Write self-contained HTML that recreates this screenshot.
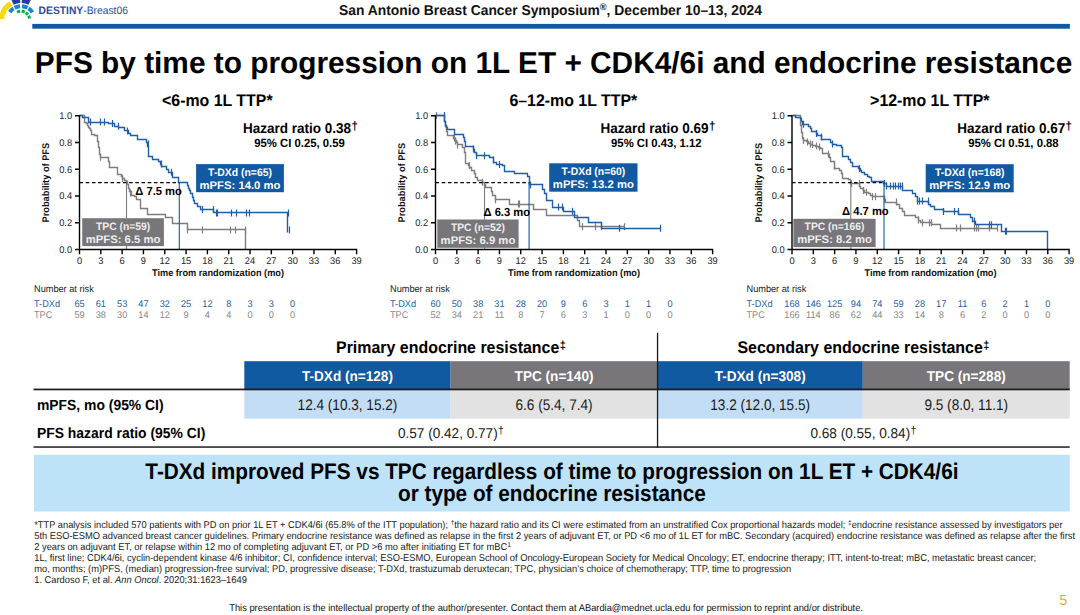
<!DOCTYPE html>
<html><head><meta charset="utf-8"><style>
html,body{margin:0;padding:0;background:#fff;}
svg{display:block;font-family:"Liberation Sans", sans-serif;text-rendering:geometricPrecision;}
</style></head><body>
<svg width="1080" height="615" viewBox="0 0 1080 615">
<rect width="1080" height="615" fill="#fff"/>
<path d="M9.51,1.24 A22.0,22.0 0 0 0 -0.97,18.85 L4.22,19.12 A16.8,16.8 0 0 1 12.22,5.68 Z" fill="#F6DA17"/>
<path d="M19.95,-3.98 A24,24 0 0 0 10.67,-1.66 L13.68,4.66 A17.0,17.0 0 0 1 20.26,3.02 Z" fill="#243F99"/>
<path d="M31.52,-1.57 A24,24 0 0 0 22.05,-3.98 L21.74,3.02 A17.0,17.0 0 0 1 28.45,4.72 Z" fill="#243F99"/>
<path d="M12.39,6.75 A15.8,15.8 0 0 0 8.06,10.94 L11.33,13.23 A11.8,11.8 0 0 1 14.57,10.10 Z" fill="#1A86CC"/>
<path d="M19.90,4.24 A15.8,15.8 0 0 0 13.58,6.05 L15.46,9.58 A11.8,11.8 0 0 1 20.18,8.23 Z" fill="#1A86CC"/>
<path d="M28.42,6.05 A15.8,15.8 0 0 0 22.10,4.24 L21.82,8.23 A11.8,11.8 0 0 1 26.54,9.58 Z" fill="#1A86CC"/>
<path d="M34.10,11.16 A15.8,15.8 0 0 0 29.61,6.75 L27.43,10.10 A11.8,11.8 0 0 1 30.78,13.40 Z" fill="#1A86CC"/>
<path d="M20.11,9.84 A10.2,10.2 0 0 0 16.37,10.91 L17.73,13.58 A7.2,7.2 0 0 1 20.37,12.83 Z" fill="#12AD4B"/>
<path d="M25.47,10.83 A10.2,10.2 0 0 0 21.71,9.82 L21.50,12.82 A7.2,7.2 0 0 1 24.16,13.53 Z" fill="#12AD4B"/>
<path d="M29.15,13.86 A10.2,10.2 0 0 0 26.56,11.45 L24.92,13.96 A7.2,7.2 0 0 1 26.75,15.67 Z" fill="#12AD4B"/>
<path d="M31.05,18.23 A10.2,10.2 0 0 0 29.83,14.90 L27.24,16.40 A7.2,7.2 0 0 1 28.09,18.75 Z" fill="#12AD4B"/>
<text x="0" y="0" transform="translate(38.6,13.9) scale(1,1.05)" font-size="10.3" font-weight="400" fill="#2B4C9E" text-anchor="start" ><tspan font-weight="700">DESTINY</tspan>-Breast06</text>
<text x="0" y="0" transform="translate(339,15) scale(1,1.05)" font-size="13.6" font-weight="700" fill="#111" text-anchor="start" textLength="423" lengthAdjust="spacingAndGlyphs" >San Antonio Breast Cancer Symposium<tspan font-size="9" dy="-5">®</tspan><tspan dy="5">, December 10–13, 2024</tspan></text>
<rect x="32.3" y="23.9" width="1037.6" height="4.8" fill="#1159A1"/>
<text x="0" y="0" transform="translate(34.8,72.7) scale(1,1.02)" font-size="29.7" font-weight="700" fill="#000" text-anchor="start" textLength="1037.5" lengthAdjust="spacingAndGlyphs" >PFS by time to progression on 1L ET + CDK4/6i and endocrine resistance</text>
<text x="0" y="0" transform="translate(217.3,105.5) scale(1,1.06)" font-size="15.9" font-weight="700" fill="#000" text-anchor="middle" >&lt;6-mo 1L TTP*</text>
<text x="0" y="0" transform="translate(357.8,132.8) scale(1,1.05)" font-size="13.5" font-weight="700" fill="#000" text-anchor="end" >Hazard ratio 0.38<tspan font-size="11.5" dy="-3" dx="0.3">†</tspan></text>
<text x="0" y="0" transform="translate(299.5,146.8) scale(1,1.05)" font-size="11.3" font-weight="700" fill="#000" text-anchor="middle" >95% CI 0.25, 0.59</text>
<path d="M79.5,115.5 H84.5 V122.5 H86.5 V123.5 H87.5 V125.5 H88.5 V127.5 H89.5 V128.5 H90.5 V130.5 H91.5 V134.5 H94.5 V135.5 H97.5 V136.5 H97.5 V141.5 H98.5 V144.5 H98.5 V147.5 H99.5 V154.5 H100.5 V157.5 H108.5 V161.5 H109.5 V167.5 H117.5 V174.5 H121.5 V176.5 H122.5 V178.5 H124.5 V180.5 H126.5 V181.5 H127.5 V184.5 H128.5 V188.5 H129.5 V191.5 H131.5 V195.5 H134.5 V196.5 H136.5 V199.5 H140.5 V208.5 H147.5 V214.5 H165.5 V217.5 H172.5 V223.5 H187.5 V229.5 H245.5 V249.5" fill="none" stroke="#7D7D7D" stroke-width="1.4"/>
<path d="M100.50,153.80v7M122.50,175.00v7M130.50,189.50v7M187.50,226.40v7M202.50,226.50v7M230.50,226.50v7M235.50,226.50v7M245.50,226.50v7" fill="none" stroke="#7D7D7D" stroke-width="1.2"/>
<path d="M79.5,115.5 H82.5 V117.5 H88.5 V122.5 H108.5 V123.5 H114.5 V126.5 H118.5 V127.5 H124.5 V130.5 H128.5 V133.5 H130.5 V135.5 H137.5 V139.5 H146.5 V142.5 H147.5 V146.5 H148.5 V152.5 H148.5 V156.5 H152.5 V159.5 H158.5 V161.5 H160.5 V164.5 H161.5 V166.5 H166.5 V169.5 H168.5 V172.5 H172.5 V177.5 H178.5 V182.5 H187.5 V185.5 H188.5 V188.5 H189.5 V190.5 H190.5 V193.5 H192.5 V197.5 H193.5 V200.5 H194.5 V203.5 H197.5 V206.5 H200.5 V209.5 H213.5 V212.5 H287.5 V232.5" fill="none" stroke="#1F5DA8" stroke-width="1.4"/>
<path d="M90.50,118.50v7M100.50,118.50v7M104.50,118.50v7M112.50,119.90v7M118.50,122.70v7M127.50,127.50v7M148.50,140.50v7M161.50,160.50v7M171.50,168.70v7M202.50,205.90v7M213.50,205.90v7M216.50,209.40v7M217.50,209.40v7M231.50,209.40v7M236.50,209.40v7M246.50,209.40v7M249.50,209.40v7M288.50,209.40v7M289.50,226.50v7" fill="none" stroke="#1F5DA8" stroke-width="1.2"/>
<path d="M126.50,182.65V249.5" stroke="#7D7D7D" stroke-width="1.1" fill="none"/>
<path d="M179.30,182.65V249.5" stroke="#1159A1" stroke-width="1.1" fill="none"/>
<path d="M79.5,182.65H179.30" stroke="#000" stroke-width="1.2" stroke-dasharray="3.6,2.6" fill="none"/>
<rect x="196.1" y="164.1" width="87.80" height="28.10" fill="#1159A1"/>
<text x="0" y="0" transform="translate(240.00,175.60) scale(1,1.05)" font-size="10.4" font-weight="700" fill="#fff" text-anchor="middle" >T-DXd (n=65)</text>
<text x="0" y="0" transform="translate(240.00,188.70) scale(1,0.98)" font-size="11.3" font-weight="700" fill="#fff" text-anchor="middle" >mPFS: 14.0 mo</text>
<rect x="82.2" y="218.2" width="81.70" height="27.90" fill="#78767B"/>
<text x="0" y="0" transform="translate(123.05,229.50) scale(1,1.05)" font-size="10.3" font-weight="700" fill="#eee" text-anchor="middle" >TPC (n=59)</text>
<text x="0" y="0" transform="translate(123.05,242.50) scale(1,0.98)" font-size="11.3" font-weight="700" fill="#eee" text-anchor="middle" >mPFS: 6.5 mo</text>
<text x="0" y="0" transform="translate(135.3,194.7) scale(1,1.05)" font-size="11.2" font-weight="700" fill="#000" text-anchor="start" >Δ 7.5 mo</text>
<path d="M79.5,115.3V249.5H357.20 M75.0,249.50H79.5M75.0,222.76H79.5M75.0,196.02H79.5M75.0,169.28H79.5M75.0,142.54H79.5M75.0,115.80H79.5 M79.50,249.5v4.8M100.81,249.5v4.8M122.13,249.5v4.8M143.44,249.5v4.8M164.76,249.5v4.8M186.07,249.5v4.8M207.39,249.5v4.8M228.71,249.5v4.8M250.02,249.5v4.8M271.34,249.5v4.8M292.65,249.5v4.8M313.97,249.5v4.8M335.28,249.5v4.8M356.60,249.5v4.8" stroke="#000" stroke-width="1.4" fill="none"/>
<text x="0" y="0" transform="translate(72.10,252.80) scale(1,1.05)" font-size="9.3" font-weight="400" fill="#222" text-anchor="end" >0.0</text>
<text x="0" y="0" transform="translate(72.10,226.06) scale(1,1.05)" font-size="9.3" font-weight="400" fill="#222" text-anchor="end" >0.2</text>
<text x="0" y="0" transform="translate(72.10,199.32) scale(1,1.05)" font-size="9.3" font-weight="400" fill="#222" text-anchor="end" >0.4</text>
<text x="0" y="0" transform="translate(72.10,172.58) scale(1,1.05)" font-size="9.3" font-weight="400" fill="#222" text-anchor="end" >0.6</text>
<text x="0" y="0" transform="translate(72.10,145.84) scale(1,1.05)" font-size="9.3" font-weight="400" fill="#222" text-anchor="end" >0.8</text>
<text x="0" y="0" transform="translate(72.10,119.10) scale(1,1.05)" font-size="9.3" font-weight="400" fill="#222" text-anchor="end" >1.0</text>
<text x="0" y="0" transform="translate(79.50,263.9) scale(1,1.05)" font-size="9.3" font-weight="400" fill="#222" text-anchor="middle" >0</text>
<text x="0" y="0" transform="translate(100.81,263.9) scale(1,1.05)" font-size="9.3" font-weight="400" fill="#222" text-anchor="middle" >3</text>
<text x="0" y="0" transform="translate(122.13,263.9) scale(1,1.05)" font-size="9.3" font-weight="400" fill="#222" text-anchor="middle" >6</text>
<text x="0" y="0" transform="translate(143.44,263.9) scale(1,1.05)" font-size="9.3" font-weight="400" fill="#222" text-anchor="middle" >9</text>
<text x="0" y="0" transform="translate(164.76,263.9) scale(1,1.05)" font-size="9.3" font-weight="400" fill="#222" text-anchor="middle" >12</text>
<text x="0" y="0" transform="translate(186.07,263.9) scale(1,1.05)" font-size="9.3" font-weight="400" fill="#222" text-anchor="middle" >15</text>
<text x="0" y="0" transform="translate(207.39,263.9) scale(1,1.05)" font-size="9.3" font-weight="400" fill="#222" text-anchor="middle" >18</text>
<text x="0" y="0" transform="translate(228.71,263.9) scale(1,1.05)" font-size="9.3" font-weight="400" fill="#222" text-anchor="middle" >21</text>
<text x="0" y="0" transform="translate(250.02,263.9) scale(1,1.05)" font-size="9.3" font-weight="400" fill="#222" text-anchor="middle" >24</text>
<text x="0" y="0" transform="translate(271.34,263.9) scale(1,1.05)" font-size="9.3" font-weight="400" fill="#222" text-anchor="middle" >27</text>
<text x="0" y="0" transform="translate(292.65,263.9) scale(1,1.05)" font-size="9.3" font-weight="400" fill="#222" text-anchor="middle" >30</text>
<text x="0" y="0" transform="translate(313.97,263.9) scale(1,1.05)" font-size="9.3" font-weight="400" fill="#222" text-anchor="middle" >33</text>
<text x="0" y="0" transform="translate(335.28,263.9) scale(1,1.05)" font-size="9.3" font-weight="400" fill="#222" text-anchor="middle" >36</text>
<text x="0" y="0" transform="translate(356.60,263.9) scale(1,1.05)" font-size="9.3" font-weight="400" fill="#222" text-anchor="middle" >39</text>
<text x="0" y="0" transform="translate(218.00,276.4) scale(1,1.05)" font-size="9.2" font-weight="700" fill="#111" text-anchor="middle" >Time from randomization (mo)</text>
<text x="0" y="0" font-size="9.25" font-weight="700" fill="#111" text-anchor="middle" transform="translate(49.10,182.65) rotate(-90) scale(1,1.05)">Probability of PFS</text>
<text x="0" y="0" transform="translate(34.00,291.9) scale(1,1.05)" font-size="9.2" font-weight="400" fill="#222" text-anchor="start" >Number at risk</text>
<text x="0" y="0" transform="translate(34.00,306.9) scale(1,1.05)" font-size="9.2" font-weight="400" fill="#1F5FAA" text-anchor="start" >T-DXd</text>
<text x="0" y="0" transform="translate(34.00,317.5) scale(1,1.05)" font-size="9.2" font-weight="400" fill="#888" text-anchor="start" >TPC</text>
<text x="0" y="0" transform="translate(79.50,306.9) scale(1,1.05)" font-size="9.2" font-weight="400" fill="#1F5FAA" text-anchor="middle" >65</text>
<text x="0" y="0" transform="translate(100.81,306.9) scale(1,1.05)" font-size="9.2" font-weight="400" fill="#1F5FAA" text-anchor="middle" >61</text>
<text x="0" y="0" transform="translate(122.13,306.9) scale(1,1.05)" font-size="9.2" font-weight="400" fill="#1F5FAA" text-anchor="middle" >53</text>
<text x="0" y="0" transform="translate(143.44,306.9) scale(1,1.05)" font-size="9.2" font-weight="400" fill="#1F5FAA" text-anchor="middle" >47</text>
<text x="0" y="0" transform="translate(164.76,306.9) scale(1,1.05)" font-size="9.2" font-weight="400" fill="#1F5FAA" text-anchor="middle" >32</text>
<text x="0" y="0" transform="translate(186.07,306.9) scale(1,1.05)" font-size="9.2" font-weight="400" fill="#1F5FAA" text-anchor="middle" >25</text>
<text x="0" y="0" transform="translate(207.39,306.9) scale(1,1.05)" font-size="9.2" font-weight="400" fill="#1F5FAA" text-anchor="middle" >12</text>
<text x="0" y="0" transform="translate(228.71,306.9) scale(1,1.05)" font-size="9.2" font-weight="400" fill="#1F5FAA" text-anchor="middle" >8</text>
<text x="0" y="0" transform="translate(250.02,306.9) scale(1,1.05)" font-size="9.2" font-weight="400" fill="#1F5FAA" text-anchor="middle" >3</text>
<text x="0" y="0" transform="translate(271.34,306.9) scale(1,1.05)" font-size="9.2" font-weight="400" fill="#1F5FAA" text-anchor="middle" >3</text>
<text x="0" y="0" transform="translate(292.65,306.9) scale(1,1.05)" font-size="9.2" font-weight="400" fill="#1F5FAA" text-anchor="middle" >0</text>
<text x="0" y="0" transform="translate(79.50,317.5) scale(1,1.05)" font-size="9.2" font-weight="400" fill="#888" text-anchor="middle" >59</text>
<text x="0" y="0" transform="translate(100.81,317.5) scale(1,1.05)" font-size="9.2" font-weight="400" fill="#888" text-anchor="middle" >38</text>
<text x="0" y="0" transform="translate(122.13,317.5) scale(1,1.05)" font-size="9.2" font-weight="400" fill="#888" text-anchor="middle" >30</text>
<text x="0" y="0" transform="translate(143.44,317.5) scale(1,1.05)" font-size="9.2" font-weight="400" fill="#888" text-anchor="middle" >14</text>
<text x="0" y="0" transform="translate(164.76,317.5) scale(1,1.05)" font-size="9.2" font-weight="400" fill="#888" text-anchor="middle" >12</text>
<text x="0" y="0" transform="translate(186.07,317.5) scale(1,1.05)" font-size="9.2" font-weight="400" fill="#888" text-anchor="middle" >9</text>
<text x="0" y="0" transform="translate(207.39,317.5) scale(1,1.05)" font-size="9.2" font-weight="400" fill="#888" text-anchor="middle" >4</text>
<text x="0" y="0" transform="translate(228.71,317.5) scale(1,1.05)" font-size="9.2" font-weight="400" fill="#888" text-anchor="middle" >4</text>
<text x="0" y="0" transform="translate(250.02,317.5) scale(1,1.05)" font-size="9.2" font-weight="400" fill="#888" text-anchor="middle" >0</text>
<text x="0" y="0" transform="translate(271.34,317.5) scale(1,1.05)" font-size="9.2" font-weight="400" fill="#888" text-anchor="middle" >0</text>
<text x="0" y="0" transform="translate(292.65,317.5) scale(1,1.05)" font-size="9.2" font-weight="400" fill="#888" text-anchor="middle" >0</text>
<text x="0" y="0" transform="translate(573.3,105.5) scale(1,1.06)" font-size="15.9" font-weight="700" fill="#000" text-anchor="middle" >6–12-mo 1L TTP*</text>
<text x="0" y="0" transform="translate(715.3,132.8) scale(1,1.05)" font-size="13.5" font-weight="700" fill="#000" text-anchor="end" >Hazard ratio 0.69<tspan font-size="11.5" dy="-3" dx="0.3">†</tspan></text>
<text x="0" y="0" transform="translate(656.3,146.8) scale(1,1.05)" font-size="11.3" font-weight="700" fill="#000" text-anchor="middle" >95% CI 0.43, 1.12</text>
<path d="M435.5,115.5 H444.5 V121.5 H445.5 V126.5 H446.5 V131.5 H447.5 V135.5 H453.5 V138.5 H455.5 V140.5 H456.5 V142.5 H457.5 V144.5 H462.5 V147.5 H464.5 V152.5 H465.5 V156.5 H465.5 V163.5 H468.5 V165.5 H469.5 V167.5 H471.5 V170.5 H474.5 V173.5 H475.5 V177.5 H477.5 V180.5 H482.5 V182.5 H484.5 V184.5 H485.5 V187.5 H491.5 V191.5 H492.5 V195.5 H495.5 V199.5 H509.5 V204.5 H533.5 V209.5 H546.5 V215.5 H577.5 V220.5 H579.5 V226.5 H624.5" fill="none" stroke="#7D7D7D" stroke-width="1.4"/>
<path d="M436.50,111.90v7M454.50,134.50v7M455.50,137.50v7M457.50,141.50v7M469.50,162.00v7M482.50,178.70v7M495.50,196.30v7M518.50,200.50v7M519.50,200.50v7M582.50,223.30v7M595.50,223.30v7M601.50,223.30v7M624.50,223.30v7" fill="none" stroke="#7D7D7D" stroke-width="1.2"/>
<path d="M435.5,115.5 H444.5 V121.5 H445.5 V125.5 H446.5 V127.5 H447.5 V129.5 H454.5 V134.5 H463.5 V137.5 H464.5 V141.5 H465.5 V143.5 H465.5 V146.5 H473.5 V149.5 H474.5 V152.5 H476.5 V155.5 H489.5 V157.5 H493.5 V162.5 H496.5 V164.5 H502.5 V165.5 H504.5 V168.5 H504.5 V171.5 H514.5 V173.5 H527.5 V176.5 H529.5 V184.5 H542.5 V189.5 H544.5 V193.5 H546.5 V200.5 H552.5 V207.5 H563.5 V211.5 H574.5 V217.5 H588.5 V222.5 H601.5 V228.5 H660.5" fill="none" stroke="#1F5DA8" stroke-width="1.4"/>
<path d="M444.50,111.90v7M473.50,145.50v7M476.50,152.20v7M484.50,152.20v7M493.50,156.50v7M499.50,161.10v7M530.50,181.40v7M558.50,203.60v7M562.50,203.60v7M572.50,207.80v7M619.50,224.70v7M660.50,224.70v7" fill="none" stroke="#1F5DA8" stroke-width="1.2"/>
<path d="M484.50,182.65V249.5" stroke="#7D7D7D" stroke-width="1.1" fill="none"/>
<path d="M529.10,182.65V249.5" stroke="#1159A1" stroke-width="1.1" fill="none"/>
<path d="M435.5,182.65H529.10" stroke="#000" stroke-width="1.2" stroke-dasharray="3.6,2.6" fill="none"/>
<rect x="549.2" y="163.3" width="88.30" height="28.40" fill="#1159A1"/>
<text x="0" y="0" transform="translate(593.35,174.80) scale(1,1.05)" font-size="10.4" font-weight="700" fill="#fff" text-anchor="middle" >T-DXd (n=60)</text>
<text x="0" y="0" transform="translate(593.35,187.90) scale(1,0.98)" font-size="11.3" font-weight="700" fill="#fff" text-anchor="middle" >mPFS: 13.2 mo</text>
<rect x="437.3" y="219.5" width="81.30" height="28.30" fill="#78767B"/>
<text x="0" y="0" transform="translate(477.95,230.80) scale(1,1.05)" font-size="10.3" font-weight="700" fill="#eee" text-anchor="middle" >TPC (n=52)</text>
<text x="0" y="0" transform="translate(477.95,243.80) scale(1,0.98)" font-size="11.3" font-weight="700" fill="#eee" text-anchor="middle" >mPFS: 6.9 mo</text>
<text x="0" y="0" transform="translate(483.5,215.8) scale(1,1.05)" font-size="11.2" font-weight="700" fill="#000" text-anchor="start" >Δ 6.3 mo</text>
<path d="M435.5,115.3V249.5H713.20 M431.0,249.50H435.5M431.0,222.76H435.5M431.0,196.02H435.5M431.0,169.28H435.5M431.0,142.54H435.5M431.0,115.80H435.5 M435.50,249.5v4.8M456.81,249.5v4.8M478.13,249.5v4.8M499.44,249.5v4.8M520.76,249.5v4.8M542.08,249.5v4.8M563.39,249.5v4.8M584.71,249.5v4.8M606.02,249.5v4.8M627.34,249.5v4.8M648.65,249.5v4.8M669.97,249.5v4.8M691.28,249.5v4.8M712.60,249.5v4.8" stroke="#000" stroke-width="1.4" fill="none"/>
<text x="0" y="0" transform="translate(428.10,252.80) scale(1,1.05)" font-size="9.3" font-weight="400" fill="#222" text-anchor="end" >0.0</text>
<text x="0" y="0" transform="translate(428.10,226.06) scale(1,1.05)" font-size="9.3" font-weight="400" fill="#222" text-anchor="end" >0.2</text>
<text x="0" y="0" transform="translate(428.10,199.32) scale(1,1.05)" font-size="9.3" font-weight="400" fill="#222" text-anchor="end" >0.4</text>
<text x="0" y="0" transform="translate(428.10,172.58) scale(1,1.05)" font-size="9.3" font-weight="400" fill="#222" text-anchor="end" >0.6</text>
<text x="0" y="0" transform="translate(428.10,145.84) scale(1,1.05)" font-size="9.3" font-weight="400" fill="#222" text-anchor="end" >0.8</text>
<text x="0" y="0" transform="translate(428.10,119.10) scale(1,1.05)" font-size="9.3" font-weight="400" fill="#222" text-anchor="end" >1.0</text>
<text x="0" y="0" transform="translate(435.50,263.9) scale(1,1.05)" font-size="9.3" font-weight="400" fill="#222" text-anchor="middle" >0</text>
<text x="0" y="0" transform="translate(456.81,263.9) scale(1,1.05)" font-size="9.3" font-weight="400" fill="#222" text-anchor="middle" >3</text>
<text x="0" y="0" transform="translate(478.13,263.9) scale(1,1.05)" font-size="9.3" font-weight="400" fill="#222" text-anchor="middle" >6</text>
<text x="0" y="0" transform="translate(499.44,263.9) scale(1,1.05)" font-size="9.3" font-weight="400" fill="#222" text-anchor="middle" >9</text>
<text x="0" y="0" transform="translate(520.76,263.9) scale(1,1.05)" font-size="9.3" font-weight="400" fill="#222" text-anchor="middle" >12</text>
<text x="0" y="0" transform="translate(542.08,263.9) scale(1,1.05)" font-size="9.3" font-weight="400" fill="#222" text-anchor="middle" >15</text>
<text x="0" y="0" transform="translate(563.39,263.9) scale(1,1.05)" font-size="9.3" font-weight="400" fill="#222" text-anchor="middle" >18</text>
<text x="0" y="0" transform="translate(584.71,263.9) scale(1,1.05)" font-size="9.3" font-weight="400" fill="#222" text-anchor="middle" >21</text>
<text x="0" y="0" transform="translate(606.02,263.9) scale(1,1.05)" font-size="9.3" font-weight="400" fill="#222" text-anchor="middle" >24</text>
<text x="0" y="0" transform="translate(627.34,263.9) scale(1,1.05)" font-size="9.3" font-weight="400" fill="#222" text-anchor="middle" >27</text>
<text x="0" y="0" transform="translate(648.65,263.9) scale(1,1.05)" font-size="9.3" font-weight="400" fill="#222" text-anchor="middle" >30</text>
<text x="0" y="0" transform="translate(669.97,263.9) scale(1,1.05)" font-size="9.3" font-weight="400" fill="#222" text-anchor="middle" >33</text>
<text x="0" y="0" transform="translate(691.28,263.9) scale(1,1.05)" font-size="9.3" font-weight="400" fill="#222" text-anchor="middle" >36</text>
<text x="0" y="0" transform="translate(712.60,263.9) scale(1,1.05)" font-size="9.3" font-weight="400" fill="#222" text-anchor="middle" >39</text>
<text x="0" y="0" transform="translate(574.00,276.4) scale(1,1.05)" font-size="9.2" font-weight="700" fill="#111" text-anchor="middle" >Time from randomization (mo)</text>
<text x="0" y="0" font-size="9.25" font-weight="700" fill="#111" text-anchor="middle" transform="translate(405.10,182.65) rotate(-90) scale(1,1.05)">Probability of PFS</text>
<text x="0" y="0" transform="translate(390.00,291.9) scale(1,1.05)" font-size="9.2" font-weight="400" fill="#222" text-anchor="start" >Number at risk</text>
<text x="0" y="0" transform="translate(390.00,306.9) scale(1,1.05)" font-size="9.2" font-weight="400" fill="#1F5FAA" text-anchor="start" >T-DXd</text>
<text x="0" y="0" transform="translate(390.00,317.5) scale(1,1.05)" font-size="9.2" font-weight="400" fill="#888" text-anchor="start" >TPC</text>
<text x="0" y="0" transform="translate(435.50,306.9) scale(1,1.05)" font-size="9.2" font-weight="400" fill="#1F5FAA" text-anchor="middle" >60</text>
<text x="0" y="0" transform="translate(456.81,306.9) scale(1,1.05)" font-size="9.2" font-weight="400" fill="#1F5FAA" text-anchor="middle" >50</text>
<text x="0" y="0" transform="translate(478.13,306.9) scale(1,1.05)" font-size="9.2" font-weight="400" fill="#1F5FAA" text-anchor="middle" >38</text>
<text x="0" y="0" transform="translate(499.44,306.9) scale(1,1.05)" font-size="9.2" font-weight="400" fill="#1F5FAA" text-anchor="middle" >31</text>
<text x="0" y="0" transform="translate(520.76,306.9) scale(1,1.05)" font-size="9.2" font-weight="400" fill="#1F5FAA" text-anchor="middle" >28</text>
<text x="0" y="0" transform="translate(542.08,306.9) scale(1,1.05)" font-size="9.2" font-weight="400" fill="#1F5FAA" text-anchor="middle" >20</text>
<text x="0" y="0" transform="translate(563.39,306.9) scale(1,1.05)" font-size="9.2" font-weight="400" fill="#1F5FAA" text-anchor="middle" >9</text>
<text x="0" y="0" transform="translate(584.71,306.9) scale(1,1.05)" font-size="9.2" font-weight="400" fill="#1F5FAA" text-anchor="middle" >6</text>
<text x="0" y="0" transform="translate(606.02,306.9) scale(1,1.05)" font-size="9.2" font-weight="400" fill="#1F5FAA" text-anchor="middle" >3</text>
<text x="0" y="0" transform="translate(627.34,306.9) scale(1,1.05)" font-size="9.2" font-weight="400" fill="#1F5FAA" text-anchor="middle" >1</text>
<text x="0" y="0" transform="translate(648.65,306.9) scale(1,1.05)" font-size="9.2" font-weight="400" fill="#1F5FAA" text-anchor="middle" >1</text>
<text x="0" y="0" transform="translate(669.97,306.9) scale(1,1.05)" font-size="9.2" font-weight="400" fill="#1F5FAA" text-anchor="middle" >0</text>
<text x="0" y="0" transform="translate(435.50,317.5) scale(1,1.05)" font-size="9.2" font-weight="400" fill="#888" text-anchor="middle" >52</text>
<text x="0" y="0" transform="translate(456.81,317.5) scale(1,1.05)" font-size="9.2" font-weight="400" fill="#888" text-anchor="middle" >34</text>
<text x="0" y="0" transform="translate(478.13,317.5) scale(1,1.05)" font-size="9.2" font-weight="400" fill="#888" text-anchor="middle" >21</text>
<text x="0" y="0" transform="translate(499.44,317.5) scale(1,1.05)" font-size="9.2" font-weight="400" fill="#888" text-anchor="middle" >11</text>
<text x="0" y="0" transform="translate(520.76,317.5) scale(1,1.05)" font-size="9.2" font-weight="400" fill="#888" text-anchor="middle" >8</text>
<text x="0" y="0" transform="translate(542.08,317.5) scale(1,1.05)" font-size="9.2" font-weight="400" fill="#888" text-anchor="middle" >7</text>
<text x="0" y="0" transform="translate(563.39,317.5) scale(1,1.05)" font-size="9.2" font-weight="400" fill="#888" text-anchor="middle" >6</text>
<text x="0" y="0" transform="translate(584.71,317.5) scale(1,1.05)" font-size="9.2" font-weight="400" fill="#888" text-anchor="middle" >3</text>
<text x="0" y="0" transform="translate(606.02,317.5) scale(1,1.05)" font-size="9.2" font-weight="400" fill="#888" text-anchor="middle" >1</text>
<text x="0" y="0" transform="translate(627.34,317.5) scale(1,1.05)" font-size="9.2" font-weight="400" fill="#888" text-anchor="middle" >0</text>
<text x="0" y="0" transform="translate(648.65,317.5) scale(1,1.05)" font-size="9.2" font-weight="400" fill="#888" text-anchor="middle" >0</text>
<text x="0" y="0" transform="translate(669.97,317.5) scale(1,1.05)" font-size="9.2" font-weight="400" fill="#888" text-anchor="middle" >0</text>
<text x="0" y="0" transform="translate(929.8,105.5) scale(1,1.06)" font-size="15.9" font-weight="700" fill="#000" text-anchor="middle" >&gt;12-mo 1L TTP*</text>
<text x="0" y="0" transform="translate(1072.0,132.8) scale(1,1.05)" font-size="13.5" font-weight="700" fill="#000" text-anchor="end" >Hazard ratio 0.67<tspan font-size="11.5" dy="-3" dx="0.3">†</tspan></text>
<text x="0" y="0" transform="translate(1013.4,146.8) scale(1,1.05)" font-size="11.3" font-weight="700" fill="#000" text-anchor="middle" >95% CI 0.51, 0.88</text>
<path d="M792.5,115.5 H800.5 V125.5 H801.5 V132.5 H802.5 V138.5 H803.5 V140.5 H806.5 V141.5 H808.5 V143.5 H810.5 V144.5 H812.5 V145.5 H815.5 V146.5 H818.5 V147.5 H820.5 V148.5 H822.5 V153.5 H828.5 V154.5 H829.5 V157.5 H830.5 V161.5 H834.5 V164.5 H834.5 V168.5 H839.5 V170.5 H841.5 V173.5 H842.5 V178.5 H848.5 V179.5 H850.5 V183.5 H859.5 V186.5 H860.5 V188.5 H863.5 V190.5 H864.5 V192.5 H868.5 V193.5 H870.5 V195.5 H872.5 V196.5 H884.5 V199.5 H885.5 V202.5 H896.5 V204.5 H899.5 V208.5 H902.5 V211.5 H904.5 V215.5 H915.5 V217.5 H918.5 V220.5 H920.5 V222.5 H931.5 V224.5 H940.5 V228.5 H997.5" fill="none" stroke="#7D7D7D" stroke-width="1.4"/>
<path d="M803.50,137.00v7M807.50,138.50v7M810.50,140.50v7M812.50,141.00v7M816.50,142.50v7M819.50,143.50v7M828.50,150.80v7M834.50,162.50v7M851.50,180.10v7M859.50,180.10v7M863.50,187.00v7M866.50,188.80v7M872.50,193.20v7M875.50,193.20v7M884.50,195.60v7M896.50,198.60v7M918.50,216.60v7M922.50,219.30v7M929.50,219.30v7M931.50,219.30v7M956.50,224.60v7M960.50,224.60v7M974.50,224.60v7M976.50,224.60v7M978.50,224.60v7M989.50,224.60v7M989.50,224.60v7M997.50,224.60v7" fill="none" stroke="#7D7D7D" stroke-width="1.2"/>
<path d="M792.5,115.5 H795.5 V117.5 H800.5 V118.5 H801.5 V121.5 H802.5 V124.5 H806.5 V124.5 H808.5 V126.5 H810.5 V128.5 H811.5 V131.5 H816.5 V133.5 H817.5 V135.5 H821.5 V139.5 H830.5 V142.5 H832.5 V144.5 H836.5 V145.5 H841.5 V147.5 H842.5 V152.5 H842.5 V156.5 H848.5 V159.5 H850.5 V162.5 H852.5 V166.5 H858.5 V168.5 H860.5 V170.5 H861.5 V172.5 H864.5 V174.5 H867.5 V176.5 H869.5 V177.5 H871.5 V181.5 H883.5 V183.5 H886.5 V186.5 H902.5 V188.5 H902.5 V190.5 H912.5 V193.5 H915.5 V196.5 H917.5 V201.5 H928.5 V204.5 H930.5 V206.5 H934.5 V209.5 H943.5 V211.5 H958.5 V214.5 H970.5 V217.5 H972.5 V221.5 H975.5 V224.5 H1001.5 V231.5 H1047.5 V249.5" fill="none" stroke="#1F5DA8" stroke-width="1.4"/>
<path d="M803.50,120.70v7M816.50,130.00v7M821.50,133.50v7M832.50,140.50v7M859.50,165.00v7M884.50,180.00v7M886.50,182.50v7M890.50,182.50v7M893.50,182.50v7M895.50,182.50v7M898.50,182.50v7M900.50,182.50v7M902.50,182.50v7M917.50,197.50v7M919.50,197.50v7M922.50,197.50v7M928.50,197.50v7M943.50,207.90v7M954.50,207.90v7M958.50,207.90v7M974.50,217.50v7M989.50,221.30v7M991.50,221.30v7M1005.50,227.80v7M1006.50,227.80v7M1006.50,227.80v7" fill="none" stroke="#1F5DA8" stroke-width="1.2"/>
<path d="M850.80,182.65V249.5" stroke="#7D7D7D" stroke-width="1.1" fill="none"/>
<path d="M884.00,182.65V249.5" stroke="#1159A1" stroke-width="1.1" fill="none"/>
<path d="M792.0,182.65H884.00" stroke="#000" stroke-width="1.2" stroke-dasharray="3.6,2.6" fill="none"/>
<rect x="925.7" y="164.2" width="88.00" height="28.10" fill="#1159A1"/>
<text x="0" y="0" transform="translate(969.70,175.70) scale(1,1.05)" font-size="10.4" font-weight="700" fill="#fff" text-anchor="middle" >T-DXd (n=168)</text>
<text x="0" y="0" transform="translate(969.70,188.80) scale(1,0.98)" font-size="11.3" font-weight="700" fill="#fff" text-anchor="middle" >mPFS: 12.9 mo</text>
<rect x="793.4" y="218.8" width="82.20" height="28.30" fill="#78767B"/>
<text x="0" y="0" transform="translate(834.50,230.10) scale(1,1.05)" font-size="10.3" font-weight="700" fill="#eee" text-anchor="middle" >TPC (n=166)</text>
<text x="0" y="0" transform="translate(834.50,243.10) scale(1,0.98)" font-size="11.3" font-weight="700" fill="#eee" text-anchor="middle" >mPFS: 8.2 mo</text>
<text x="0" y="0" transform="translate(842.1,214.5) scale(1,1.05)" font-size="11.2" font-weight="700" fill="#000" text-anchor="start" >Δ 4.7 mo</text>
<path d="M792.0,115.3V249.5H1069.69 M787.5,249.50H792.0M787.5,222.76H792.0M787.5,196.02H792.0M787.5,169.28H792.0M787.5,142.54H792.0M787.5,115.80H792.0 M792.00,249.5v4.8M813.32,249.5v4.8M834.63,249.5v4.8M855.95,249.5v4.8M877.26,249.5v4.8M898.58,249.5v4.8M919.89,249.5v4.8M941.21,249.5v4.8M962.52,249.5v4.8M983.84,249.5v4.8M1005.15,249.5v4.8M1026.46,249.5v4.8M1047.78,249.5v4.8M1069.10,249.5v4.8" stroke="#000" stroke-width="1.4" fill="none"/>
<text x="0" y="0" transform="translate(784.60,252.80) scale(1,1.05)" font-size="9.3" font-weight="400" fill="#222" text-anchor="end" >0.0</text>
<text x="0" y="0" transform="translate(784.60,226.06) scale(1,1.05)" font-size="9.3" font-weight="400" fill="#222" text-anchor="end" >0.2</text>
<text x="0" y="0" transform="translate(784.60,199.32) scale(1,1.05)" font-size="9.3" font-weight="400" fill="#222" text-anchor="end" >0.4</text>
<text x="0" y="0" transform="translate(784.60,172.58) scale(1,1.05)" font-size="9.3" font-weight="400" fill="#222" text-anchor="end" >0.6</text>
<text x="0" y="0" transform="translate(784.60,145.84) scale(1,1.05)" font-size="9.3" font-weight="400" fill="#222" text-anchor="end" >0.8</text>
<text x="0" y="0" transform="translate(784.60,119.10) scale(1,1.05)" font-size="9.3" font-weight="400" fill="#222" text-anchor="end" >1.0</text>
<text x="0" y="0" transform="translate(792.00,263.9) scale(1,1.05)" font-size="9.3" font-weight="400" fill="#222" text-anchor="middle" >0</text>
<text x="0" y="0" transform="translate(813.32,263.9) scale(1,1.05)" font-size="9.3" font-weight="400" fill="#222" text-anchor="middle" >3</text>
<text x="0" y="0" transform="translate(834.63,263.9) scale(1,1.05)" font-size="9.3" font-weight="400" fill="#222" text-anchor="middle" >6</text>
<text x="0" y="0" transform="translate(855.95,263.9) scale(1,1.05)" font-size="9.3" font-weight="400" fill="#222" text-anchor="middle" >9</text>
<text x="0" y="0" transform="translate(877.26,263.9) scale(1,1.05)" font-size="9.3" font-weight="400" fill="#222" text-anchor="middle" >12</text>
<text x="0" y="0" transform="translate(898.58,263.9) scale(1,1.05)" font-size="9.3" font-weight="400" fill="#222" text-anchor="middle" >15</text>
<text x="0" y="0" transform="translate(919.89,263.9) scale(1,1.05)" font-size="9.3" font-weight="400" fill="#222" text-anchor="middle" >18</text>
<text x="0" y="0" transform="translate(941.21,263.9) scale(1,1.05)" font-size="9.3" font-weight="400" fill="#222" text-anchor="middle" >21</text>
<text x="0" y="0" transform="translate(962.52,263.9) scale(1,1.05)" font-size="9.3" font-weight="400" fill="#222" text-anchor="middle" >24</text>
<text x="0" y="0" transform="translate(983.84,263.9) scale(1,1.05)" font-size="9.3" font-weight="400" fill="#222" text-anchor="middle" >27</text>
<text x="0" y="0" transform="translate(1005.15,263.9) scale(1,1.05)" font-size="9.3" font-weight="400" fill="#222" text-anchor="middle" >30</text>
<text x="0" y="0" transform="translate(1026.46,263.9) scale(1,1.05)" font-size="9.3" font-weight="400" fill="#222" text-anchor="middle" >33</text>
<text x="0" y="0" transform="translate(1047.78,263.9) scale(1,1.05)" font-size="9.3" font-weight="400" fill="#222" text-anchor="middle" >36</text>
<text x="0" y="0" transform="translate(1069.10,263.9) scale(1,1.05)" font-size="9.3" font-weight="400" fill="#222" text-anchor="middle" >39</text>
<text x="0" y="0" transform="translate(930.50,276.4) scale(1,1.05)" font-size="9.2" font-weight="700" fill="#111" text-anchor="middle" >Time from randomization (mo)</text>
<text x="0" y="0" font-size="9.25" font-weight="700" fill="#111" text-anchor="middle" transform="translate(761.60,182.65) rotate(-90) scale(1,1.05)">Probability of PFS</text>
<text x="0" y="0" transform="translate(746.50,291.9) scale(1,1.05)" font-size="9.2" font-weight="400" fill="#222" text-anchor="start" >Number at risk</text>
<text x="0" y="0" transform="translate(746.50,306.9) scale(1,1.05)" font-size="9.2" font-weight="400" fill="#1F5FAA" text-anchor="start" >T-DXd</text>
<text x="0" y="0" transform="translate(746.50,317.5) scale(1,1.05)" font-size="9.2" font-weight="400" fill="#888" text-anchor="start" >TPC</text>
<text x="0" y="0" transform="translate(792.00,306.9) scale(1,1.05)" font-size="9.2" font-weight="400" fill="#1F5FAA" text-anchor="middle" >168</text>
<text x="0" y="0" transform="translate(813.32,306.9) scale(1,1.05)" font-size="9.2" font-weight="400" fill="#1F5FAA" text-anchor="middle" >146</text>
<text x="0" y="0" transform="translate(834.63,306.9) scale(1,1.05)" font-size="9.2" font-weight="400" fill="#1F5FAA" text-anchor="middle" >125</text>
<text x="0" y="0" transform="translate(855.95,306.9) scale(1,1.05)" font-size="9.2" font-weight="400" fill="#1F5FAA" text-anchor="middle" >94</text>
<text x="0" y="0" transform="translate(877.26,306.9) scale(1,1.05)" font-size="9.2" font-weight="400" fill="#1F5FAA" text-anchor="middle" >74</text>
<text x="0" y="0" transform="translate(898.58,306.9) scale(1,1.05)" font-size="9.2" font-weight="400" fill="#1F5FAA" text-anchor="middle" >59</text>
<text x="0" y="0" transform="translate(919.89,306.9) scale(1,1.05)" font-size="9.2" font-weight="400" fill="#1F5FAA" text-anchor="middle" >28</text>
<text x="0" y="0" transform="translate(941.21,306.9) scale(1,1.05)" font-size="9.2" font-weight="400" fill="#1F5FAA" text-anchor="middle" >17</text>
<text x="0" y="0" transform="translate(962.52,306.9) scale(1,1.05)" font-size="9.2" font-weight="400" fill="#1F5FAA" text-anchor="middle" >11</text>
<text x="0" y="0" transform="translate(983.84,306.9) scale(1,1.05)" font-size="9.2" font-weight="400" fill="#1F5FAA" text-anchor="middle" >6</text>
<text x="0" y="0" transform="translate(1005.15,306.9) scale(1,1.05)" font-size="9.2" font-weight="400" fill="#1F5FAA" text-anchor="middle" >2</text>
<text x="0" y="0" transform="translate(1026.46,306.9) scale(1,1.05)" font-size="9.2" font-weight="400" fill="#1F5FAA" text-anchor="middle" >1</text>
<text x="0" y="0" transform="translate(1047.78,306.9) scale(1,1.05)" font-size="9.2" font-weight="400" fill="#1F5FAA" text-anchor="middle" >0</text>
<text x="0" y="0" transform="translate(792.00,317.5) scale(1,1.05)" font-size="9.2" font-weight="400" fill="#888" text-anchor="middle" >166</text>
<text x="0" y="0" transform="translate(813.32,317.5) scale(1,1.05)" font-size="9.2" font-weight="400" fill="#888" text-anchor="middle" >114</text>
<text x="0" y="0" transform="translate(834.63,317.5) scale(1,1.05)" font-size="9.2" font-weight="400" fill="#888" text-anchor="middle" >86</text>
<text x="0" y="0" transform="translate(855.95,317.5) scale(1,1.05)" font-size="9.2" font-weight="400" fill="#888" text-anchor="middle" >62</text>
<text x="0" y="0" transform="translate(877.26,317.5) scale(1,1.05)" font-size="9.2" font-weight="400" fill="#888" text-anchor="middle" >44</text>
<text x="0" y="0" transform="translate(898.58,317.5) scale(1,1.05)" font-size="9.2" font-weight="400" fill="#888" text-anchor="middle" >33</text>
<text x="0" y="0" transform="translate(919.89,317.5) scale(1,1.05)" font-size="9.2" font-weight="400" fill="#888" text-anchor="middle" >14</text>
<text x="0" y="0" transform="translate(941.21,317.5) scale(1,1.05)" font-size="9.2" font-weight="400" fill="#888" text-anchor="middle" >8</text>
<text x="0" y="0" transform="translate(962.52,317.5) scale(1,1.05)" font-size="9.2" font-weight="400" fill="#888" text-anchor="middle" >6</text>
<text x="0" y="0" transform="translate(983.84,317.5) scale(1,1.05)" font-size="9.2" font-weight="400" fill="#888" text-anchor="middle" >2</text>
<text x="0" y="0" transform="translate(1005.15,317.5) scale(1,1.05)" font-size="9.2" font-weight="400" fill="#888" text-anchor="middle" >0</text>
<text x="0" y="0" transform="translate(1026.46,317.5) scale(1,1.05)" font-size="9.2" font-weight="400" fill="#888" text-anchor="middle" >0</text>
<text x="0" y="0" transform="translate(1047.78,317.5) scale(1,1.05)" font-size="9.2" font-weight="400" fill="#888" text-anchor="middle" >0</text>
<text x="0" y="0" transform="translate(450.9,352.5) scale(1,1.06)" font-size="15.95" font-weight="700" fill="#000" text-anchor="middle" >Primary endocrine resistance<tspan font-size="11" dy="-3.2" dx="0.4">‡</tspan></text>
<text x="0" y="0" transform="translate(863.4,352.5) scale(1,1.06)" font-size="15.95" font-weight="700" fill="#000" text-anchor="middle" >Secondary endocrine resistance<tspan font-size="11" dy="-3.2" dx="0.4">‡</tspan></text>
<rect x="244.3" y="361.2" width="206.3" height="28.5" fill="#1159A1"/>
<rect x="450.6" y="361.2" width="206.9" height="28.5" fill="#78767B"/>
<rect x="657.5" y="361.2" width="205.3" height="28.5" fill="#1159A1"/>
<rect x="862.8" y="361.2" width="206.9" height="28.5" fill="#78767B"/>
<rect x="244.3" y="389.5" width="206.3" height="29.2" fill="#C3DDF5"/>
<rect x="450.6" y="389.5" width="206.9" height="29.2" fill="#E2E2E2"/>
<rect x="657.5" y="389.5" width="205.3" height="29.2" fill="#C3DDF5"/>
<rect x="862.8" y="389.5" width="206.9" height="29.2" fill="#E2E2E2"/>
<rect x="33.5" y="388.6" width="1036.2" height="1.7" fill="#1a1a1a"/>
<rect x="33.5" y="446.2" width="1036.2" height="1.7" fill="#3a3a3a"/>
<rect x="656.9" y="332.8" width="1.3" height="115" fill="#1a1a1a"/>
<text x="0" y="0" transform="translate(347.45,380.9) scale(1,1.05)" font-size="13.6" font-weight="700" fill="#fff" text-anchor="middle" >T-DXd (n=128)</text>
<text x="0" y="0" transform="translate(347.45,410.0) scale(1,1.13)" font-size="13.6" font-weight="400" fill="#1a1a1a" text-anchor="middle" >12.4 (10.3, 15.2)</text>
<text x="0" y="0" transform="translate(554.05,380.9) scale(1,1.05)" font-size="13.6" font-weight="700" fill="#fff" text-anchor="middle" >TPC (n=140)</text>
<text x="0" y="0" transform="translate(554.05,410.0) scale(1,1.13)" font-size="13.6" font-weight="400" fill="#1a1a1a" text-anchor="middle" >6.6 (5.4, 7.4)</text>
<text x="0" y="0" transform="translate(760.15,380.9) scale(1,1.05)" font-size="13.6" font-weight="700" fill="#fff" text-anchor="middle" >T-DXd (n=308)</text>
<text x="0" y="0" transform="translate(760.15,410.0) scale(1,1.13)" font-size="13.6" font-weight="400" fill="#1a1a1a" text-anchor="middle" >13.2 (12.0, 15.5)</text>
<text x="0" y="0" transform="translate(966.25,380.9) scale(1,1.05)" font-size="13.6" font-weight="700" fill="#fff" text-anchor="middle" >TPC (n=288)</text>
<text x="0" y="0" transform="translate(966.25,410.0) scale(1,1.13)" font-size="13.6" font-weight="400" fill="#1a1a1a" text-anchor="middle" >9.5 (8.0, 11.1)</text>
<text x="0" y="0" transform="translate(37,410.2) scale(1,1.06)" font-size="13.9" font-weight="700" fill="#000" text-anchor="start" >mPFS, mo (95% CI)</text>
<text x="0" y="0" transform="translate(37,438.4) scale(1,1.06)" font-size="13.9" font-weight="700" fill="#000" text-anchor="start" >PFS hazard ratio (95% CI)</text>
<text x="0" y="0" transform="translate(450.9,437.8) scale(1,1.05)" font-size="13.6" font-weight="400" fill="#1a1a1a" text-anchor="middle" >0.57 (0.42, 0.77)<tspan font-size="10.5" dy="-4" dx="0.3">†</tspan></text>
<text x="0" y="0" transform="translate(863.4,437.8) scale(1,1.05)" font-size="13.6" font-weight="400" fill="#1a1a1a" text-anchor="middle" >0.68 (0.55, 0.84)<tspan font-size="10.5" dy="-4" dx="0.3">†</tspan></text>
<rect x="34" y="454.8" width="1035.8" height="56.7" fill="#BEE3F9"/>
<text x="0" y="0" transform="translate(551.9,478.9) scale(1,1.09)" font-size="20.76" font-weight="700" fill="#000" text-anchor="middle" >T-DXd improved PFS vs TPC regardless of time to progression on 1L ET + CDK4/6i</text>
<text x="0" y="0" transform="translate(551.9,501.3) scale(1,1.09)" font-size="20.76" font-weight="700" fill="#000" text-anchor="middle" >or type of endocrine resistance</text>
<text x="0" y="0" transform="translate(34.2,527.8) scale(1,1.06)" font-size="9.33" font-weight="400" fill="#1a1a1a" text-anchor="start" textLength="1028.3" lengthAdjust="spacingAndGlyphs" >*TTP analysis included 570 patients with PD on prior 1L ET + CDK4/6i (65.8% of the ITT population); <tspan font-size="6.5" dy="-3">†</tspan><tspan dy="3">the hazard ratio and its CI were estimated from an unstratified Cox proportional hazards model; </tspan><tspan font-size="6.5" dy="-3">‡</tspan><tspan dy="3">endocrine resistance assessed by investigators per</tspan></text>
<text x="0" y="0" transform="translate(34.2,538.9) scale(1,1.06)" font-size="9.33" font-weight="400" fill="#1a1a1a" text-anchor="start" textLength="1040.8" lengthAdjust="spacingAndGlyphs" >5th ESO-ESMO advanced breast cancer guidelines. Primary endocrine resistance was defined as relapse in the first 2 years of adjuvant ET, or PD &lt;6 mo of 1L ET for mBC. Secondary (acquired) endocrine resistance was defined as relapse after the first</text>
<text x="0" y="0" transform="translate(34.2,550.0) scale(1,1.06)" font-size="9.33" font-weight="400" fill="#1a1a1a" text-anchor="start" >2 years on adjuvant ET, or relapse within 12 mo of completing adjuvant ET, or PD &gt;6 mo after initiating ET for mBC<tspan font-size="6.5" dy="-3">1</tspan></text>
<text x="0" y="0" transform="translate(34.2,561.2) scale(1,1.06)" font-size="9.33" font-weight="400" fill="#1a1a1a" text-anchor="start" textLength="1002" lengthAdjust="spacingAndGlyphs" >1L, first line; CDK4/6i, cyclin-dependent kinase 4/6 inhibitor; CI, confidence interval; ESO-ESMO, European School of Oncology-European Society for Medical Oncology; ET, endocrine therapy; ITT, intent-to-treat; mBC, metastatic breast cancer;</text>
<text x="0" y="0" transform="translate(34.2,572.2) scale(1,1.06)" font-size="9.33" font-weight="400" fill="#1a1a1a" text-anchor="start" textLength="757" lengthAdjust="spacingAndGlyphs" >mo, months; (m)PFS, (median) progression-free survival; PD, progressive disease; T-DXd, trastuzumab deruxtecan; TPC, physician’s choice of chemotherapy; TTP, time to progression</text>
<text x="0" y="0" transform="translate(34.2,583.3) scale(1,1.06)" font-size="9.33" font-weight="400" fill="#1a1a1a" text-anchor="start" >1. Cardoso F, et al. <tspan font-style="italic">Ann Oncol</tspan>. 2020;31:1623–1649</text>
<text x="0" y="0" transform="translate(229.2,610.5) scale(1,1.06)" font-size="9.33" font-weight="400" fill="#111" text-anchor="start" >This presentation is the intellectual property of the author/presenter. Contact them at ABardia@mednet.ucla.edu for permission to reprint and/or distribute.</text>
<text x="0" y="0" transform="translate(1059.6,604.6) scale(1,1.05)" font-size="14" font-weight="400" fill="#F2A51C" text-anchor="start" >5</text>
</svg>
</body></html>
